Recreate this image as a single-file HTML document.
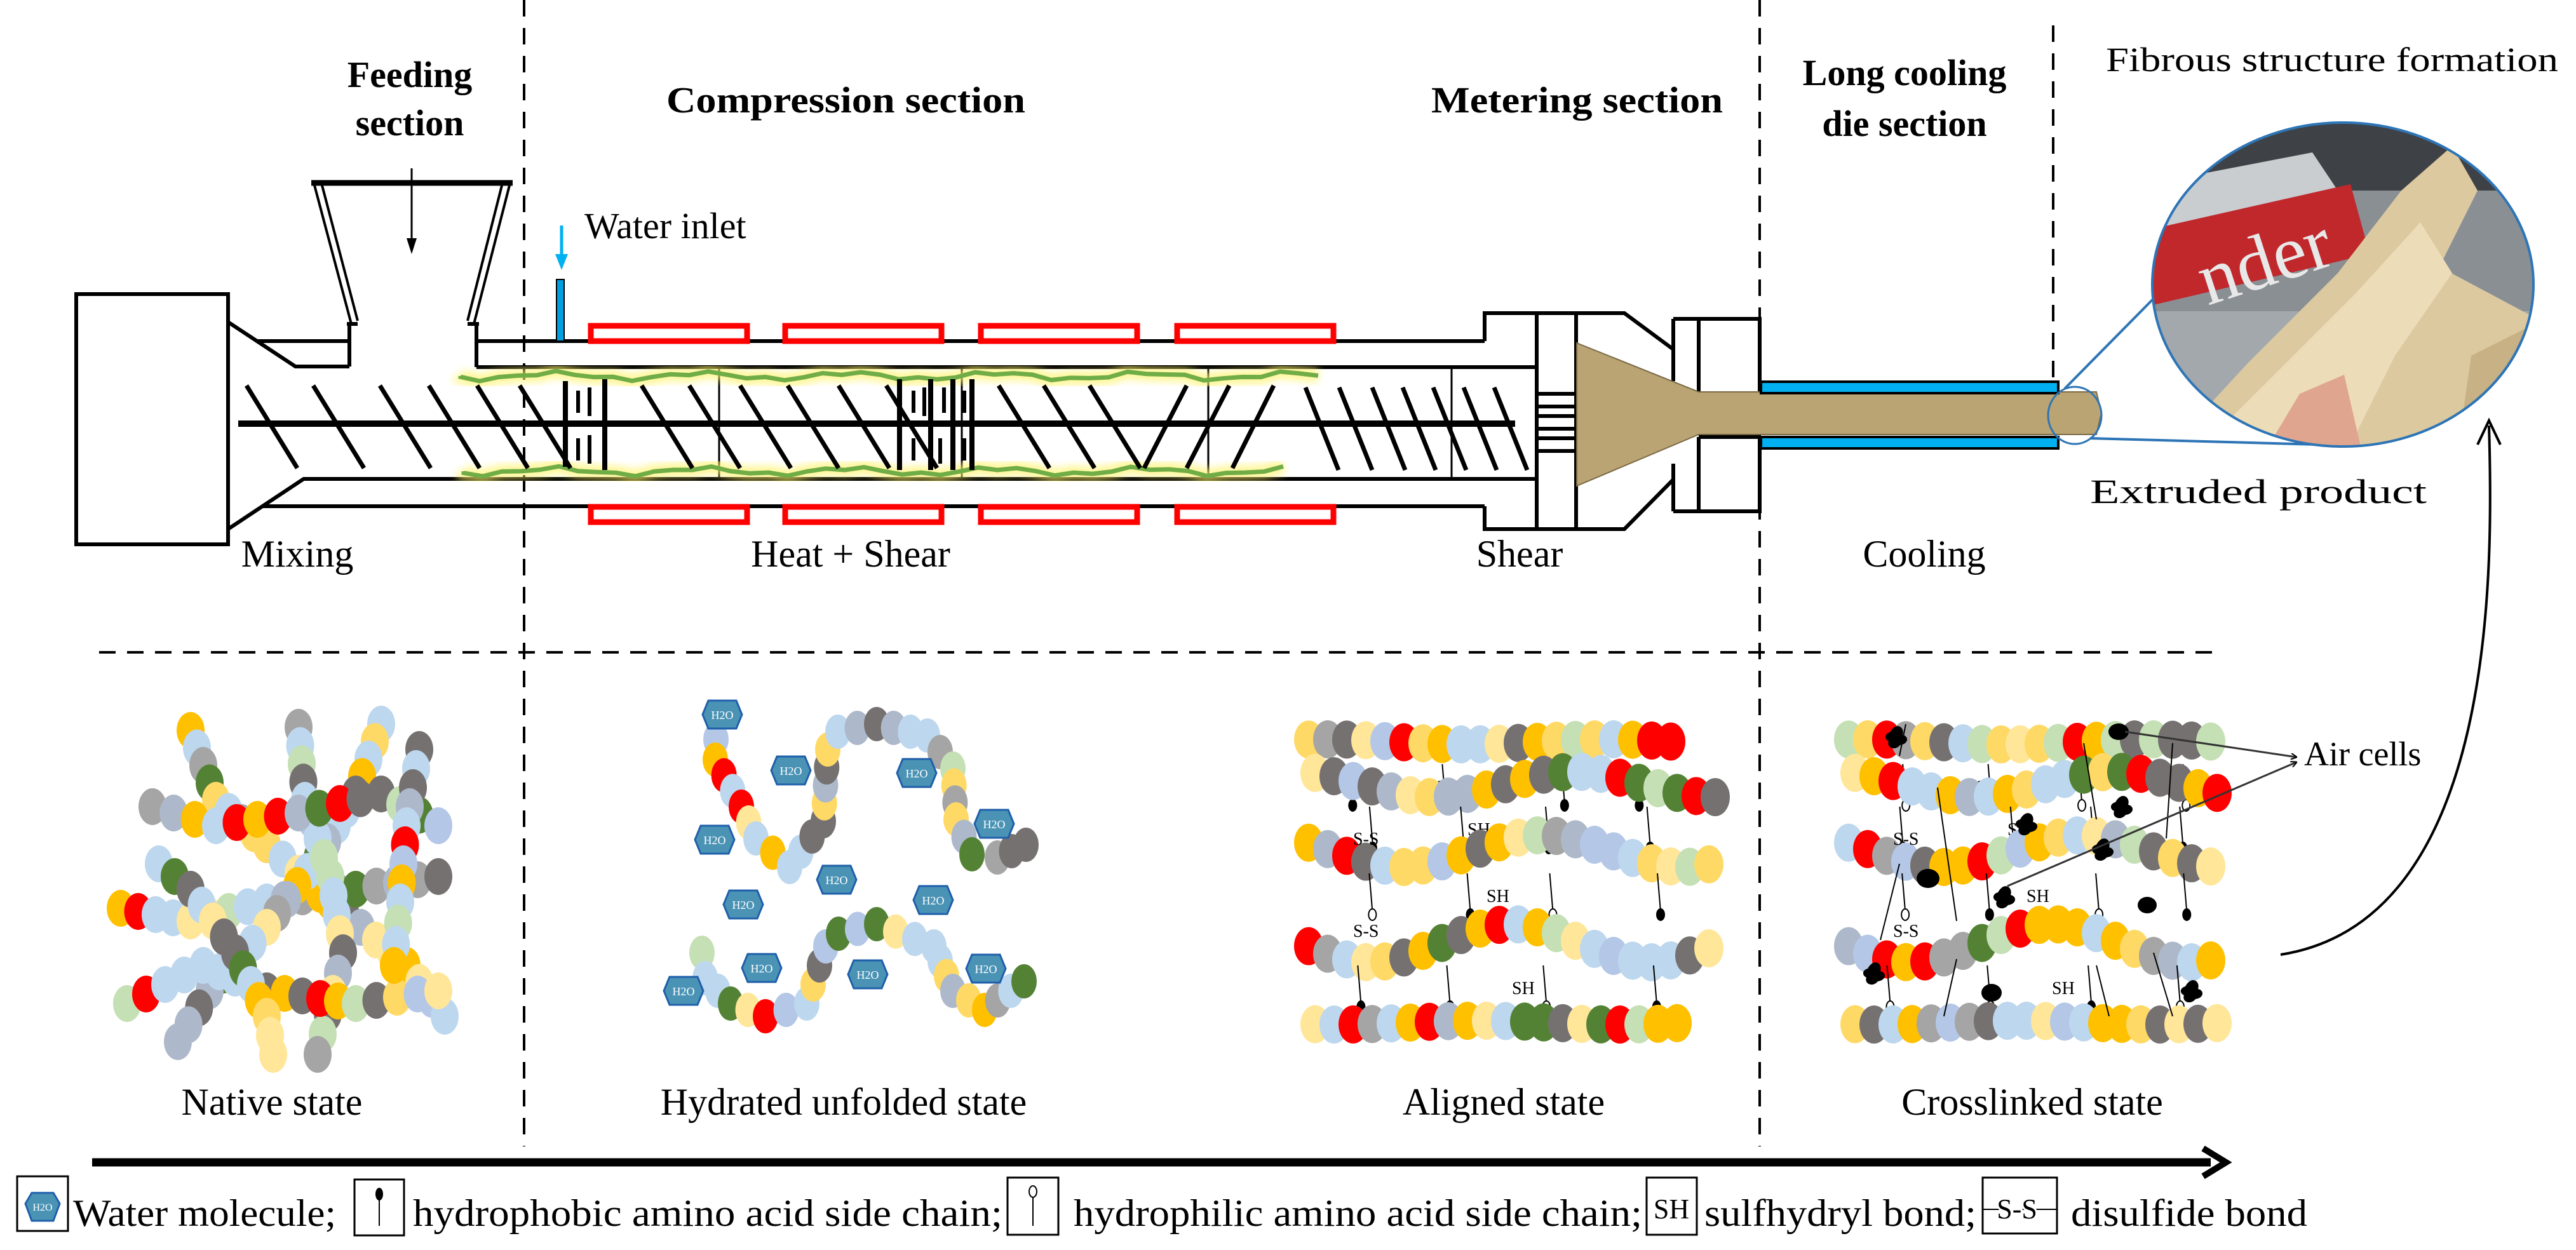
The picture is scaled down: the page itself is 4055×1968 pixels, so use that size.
<!DOCTYPE html>
<html><head><meta charset="utf-8">
<style>
html,body{margin:0;padding:0;background:#fff;}
svg{display:block;}
text{font-family:"Liberation Serif",serif;fill:#000;}
.b{font-weight:bold;}
</style></head>
<body>
<svg id="s" xmlns="http://www.w3.org/2000/svg" width="4055" height="1968" viewBox="0 0 4055 1968">
<defs>
<clipPath id="ov"><ellipse cx="3688" cy="448" rx="300" ry="255"/></clipPath>
<filter id="glow" x="-5%" y="-50%" width="110%" height="200%"><feGaussianBlur stdDeviation="6"/></filter>
<marker id="ah" markerWidth="10" markerHeight="10" refX="9" refY="5" orient="auto" markerUnits="userSpaceOnUse"><path d="M0,0 L10,5 L0,10" fill="none" stroke="#000" stroke-width="2"/></marker>
</defs>

<g stroke="#000" stroke-width="4" stroke-dasharray="26,18" fill="none">
<line x1="825" y1="0" x2="825" y2="1805"/>
<line x1="2770" y1="0" x2="2770" y2="1805"/>
<line x1="3232" y1="40" x2="3232" y2="690"/>
<line x1="156" y1="1027" x2="3484" y2="1027"/>
</g>

<text class="b" x="645" y="137" font-size="58" text-anchor="middle">Feeding</text>
<text class="b" x="645" y="213" font-size="58" text-anchor="middle">section</text>
<text class="b" x="1049" y="177" font-size="58" textLength="565" lengthAdjust="spacingAndGlyphs">Compression section</text>
<text class="b" x="2253" y="177" font-size="58" textLength="459" lengthAdjust="spacingAndGlyphs">Metering section</text>
<text class="b" x="2998" y="134" font-size="58" text-anchor="middle">Long cooling</text>
<text class="b" x="2998" y="214" font-size="58" text-anchor="middle">die section</text>
<text x="3315" y="112" font-size="54" textLength="712" lengthAdjust="spacingAndGlyphs">Fibrous structure formation</text>
<text x="920" y="375" font-size="58">Water inlet</text>

<g stroke="#000" stroke-width="6" fill="none">
<rect x="120" y="463" width="239" height="394" fill="#fff"/>
<polyline points="359,507 465,577 550,577"/>
<line x1="404" y1="537" x2="550" y2="537"/>
<polyline points="359,833 478,754 2419,754"/>
<line x1="413" y1="797" x2="2337" y2="797"/>
<line x1="750" y1="578" x2="2419" y2="578"/>
<line x1="750" y1="537" x2="2337" y2="537"/>
<line x1="550" y1="510" x2="550" y2="577"/>
<line x1="750" y1="510" x2="750" y2="578"/>
<line x1="490" y1="288" x2="807" y2="288" stroke-width="9"/>
<line x1="494" y1="288" x2="553" y2="510" stroke-width="4"/>
<line x1="507" y1="292" x2="563" y2="505" stroke-width="4"/>
<line x1="803" y1="288" x2="746" y2="510" stroke-width="4"/>
<line x1="790" y1="292" x2="736" y2="505" stroke-width="4"/>
<line x1="546" y1="510" x2="563" y2="510"/>
<line x1="736" y1="510" x2="754" y2="510"/>
</g>
<line x1="648" y1="265" x2="648" y2="385" stroke="#000" stroke-width="3"/>
<polygon points="640,375 656,375 648,400" fill="#000"/>
<rect x="876" y="440" width="12" height="97" fill="#00A0E0" stroke="#000" stroke-width="2"/>
<line x1="884" y1="355" x2="884" y2="405" stroke="#00B0F0" stroke-width="5"/>
<polygon points="874,400 894,400 884,425" fill="#00B0F0"/>
<g stroke="#000" stroke-width="3">
<line x1="1132" y1="578" x2="1132" y2="754"/>
<line x1="1514" y1="578" x2="1514" y2="754"/>
<line x1="1902" y1="578" x2="1902" y2="754"/>
<line x1="2285" y1="578" x2="2285" y2="754"/>
</g>
<g fill="none" stroke="#FF0000" stroke-width="9">
<rect x="930" y="513" width="246" height="24"/><rect x="1236" y="513" width="246" height="24"/>
<rect x="1544" y="513" width="246" height="24"/><rect x="1853" y="513" width="246" height="24"/>
<rect x="930" y="798" width="246" height="24"/><rect x="1236" y="798" width="246" height="24"/>
<rect x="1544" y="798" width="246" height="24"/><rect x="1853" y="798" width="246" height="24"/>
</g>
<g id="green"></g>
<line x1="375" y1="667" x2="2385" y2="667" stroke="#000" stroke-width="10"/>
<g id="flights" stroke="#000" stroke-width="7" stroke-linecap="butt"></g>

<g stroke="#000" stroke-width="6" fill="none">
<polyline points="2337,537 2337,493 2557,493 2634,550"/>
<polyline points="2337,797 2337,833 2557,833 2634,755"/>
<line x1="2419" y1="493" x2="2419" y2="833"/>
<line x1="2481" y1="493" x2="2481" y2="833"/>
<polyline points="2634,502 2770,502 2770,620"/>
<line x1="2634" y1="502" x2="2634" y2="600"/>
<line x1="2674" y1="502" x2="2674" y2="620"/>
<polyline points="2634,805 2770,805 2770,688"/>
<line x1="2634" y1="805" x2="2634" y2="730"/>
<line x1="2674" y1="805" x2="2674" y2="688"/>
<line x1="2674" y1="620" x2="2770" y2="620"/>
<line x1="2674" y1="688" x2="2770" y2="688"/>
<rect x="2419" y="620" width="62" height="20"/>
<rect x="2419" y="655" width="62" height="20"/>
<rect x="2419" y="690" width="62" height="20"/>
</g>
<polygon points="2482,540 2674,617 3300,617 3308,650 3300,684 2674,684 2482,765" fill="#BBA473" stroke="#7a6a45" stroke-width="2"/>
<rect x="2772" y="601" width="468" height="18" fill="#00B0F0" stroke="#000" stroke-width="4"/>
<rect x="2772" y="688" width="468" height="18" fill="#00B0F0" stroke="#000" stroke-width="4"/>
<ellipse cx="3266" cy="654" rx="42" ry="45" fill="none" stroke="#2E75B6" stroke-width="3"/>
<line x1="3250" y1="612" x2="3395" y2="465" stroke="#2E75B6" stroke-width="4"/>
<line x1="3290" y1="690" x2="3650" y2="700" stroke="#2E75B6" stroke-width="4"/>

<g clip-path="url(#ov)">
<rect x="3380" y="190" width="620" height="520" fill="#8a8f94"/>
<rect x="3380" y="190" width="620" height="110" fill="#3e4246"/>
<polygon points="3380,290 3640,240 3700,330 3400,400" fill="#c9cdd0"/>
<polygon points="3390,360 3700,290 3730,400 3390,480" fill="#c0282c"/>
<text x="3460" y="455" font-size="120" transform="rotate(-18 3550 420)" style="fill:#e8e8e8">nder</text>
<rect x="3380" y="490" width="620" height="230" fill="#a3a8ad"/>
<polygon points="3420,700 3540,570 3680,430 3780,300 3860,230 3900,300 3840,420 3990,500 3990,720" fill="#dcc9a0"/>
<polygon points="3470,700 3590,580 3710,460 3810,350 3860,430 3770,560 3700,700" fill="#ecdcb8"/>
<polygon points="3560,720 3620,620 3690,590 3720,720" fill="#e0a58e"/>
<polygon points="3890,560 3990,510 3990,700 3870,700" fill="#c8b184"/>
</g>
<ellipse cx="3688" cy="448" rx="300" ry="255" fill="none" stroke="#2E75B6" stroke-width="4"/>
<text x="3290" y="792" font-size="54" textLength="530" lengthAdjust="spacingAndGlyphs">Extruded product</text>

<text x="468" y="892" font-size="60" text-anchor="middle">Mixing</text>
<text x="1339" y="892" font-size="60" text-anchor="middle">Heat + Shear</text>
<text x="2392" y="892" font-size="60" text-anchor="middle">Shear</text>
<text x="3029" y="892" font-size="60" text-anchor="middle">Cooling</text>

<g id="mol"></g>

<path d="M3590,1503 C3930,1450 3925,900 3918,670" fill="none" stroke="#000" stroke-width="4"/>
<polyline points="3900,700 3918,662 3936,700" fill="none" stroke="#000" stroke-width="4"/>
<text x="3627" y="1205" font-size="54">Air cells</text>

<text x="428" y="1755" font-size="60" text-anchor="middle">Native state</text>
<text x="1328" y="1755" font-size="60" text-anchor="middle">Hydrated unfolded state</text>
<text x="2367" y="1755" font-size="60" text-anchor="middle">Aligned state</text>
<text x="3199" y="1755" font-size="60" text-anchor="middle">Crosslinked state</text>

<line x1="145" y1="1830" x2="3480" y2="1830" stroke="#000" stroke-width="13"/>
<polyline points="3468,1808 3504,1830 3468,1852" fill="none" stroke="#000" stroke-width="10"/>

<g stroke="#000" stroke-width="3" fill="#fff">
<rect x="27" y="1852" width="80" height="86"/>
<rect x="558" y="1857" width="78" height="88"/>
<rect x="1586" y="1854" width="80" height="90"/>
<rect x="2592" y="1854" width="79" height="90"/>
<rect x="3121" y="1854" width="117" height="88"/>
</g>
<polygon points="40,1895 50,1878 84,1878 94,1895 84,1922 50,1922" fill="#4A93B5" stroke="#1F5FAA" stroke-width="3"/>
<text x="67" y="1906" font-size="16" text-anchor="middle" style="fill:#fff">H2O</text>
<line x1="597" y1="1880" x2="597" y2="1930" stroke="#000" stroke-width="2"/>
<ellipse cx="597" cy="1880" rx="6" ry="10" fill="#000"/>
<line x1="1626" y1="1884" x2="1626" y2="1930" stroke="#000" stroke-width="2"/>
<ellipse cx="1626" cy="1876" rx="6" ry="9" fill="#fff" stroke="#000" stroke-width="2"/>
<text x="2631" y="1918" font-size="44" text-anchor="middle">SH</text>
<line x1="3121" y1="1904" x2="3238" y2="1904" stroke="#000" stroke-width="2"/>
<text x="3175" y="1918" font-size="44" text-anchor="middle" style="paint-order:stroke;stroke:#fff;stroke-width:6">S-S</text>
<text x="115" y="1930" font-size="60" textLength="414" lengthAdjust="spacingAndGlyphs">Water molecule;</text>
<text x="650" y="1930" font-size="60" textLength="928" lengthAdjust="spacingAndGlyphs">hydrophobic amino acid side chain;</text>
<text x="1690" y="1930" font-size="60" textLength="895" lengthAdjust="spacingAndGlyphs">hydrophilic amino acid side chain;</text>
<text x="2683" y="1930" font-size="60" textLength="428" lengthAdjust="spacingAndGlyphs">sulfhydryl bond;</text>
<text x="3260" y="1930" font-size="60" textLength="372" lengthAdjust="spacingAndGlyphs">disulfide bond</text>
</svg>
<script>
(function(){
var NS="http://www.w3.org/2000/svg";
function el(p,t,a){var e=document.createElementNS(NS,t);for(var k in a)e.setAttribute(k,a[k]);p.appendChild(e);return e;}
var seed=7;function rnd(){seed=(seed*16807)%2147483647;return seed/2147483647;}
var C=["#FFC000","#FF0000","#548235","#767171","#A5A5A5","#ADB9CA","#B4C7E7","#BDD7EE","#C5E0B4","#FFE699","#FFD966","#FFC000","#BDD7EE","#767171"];
var F=document.getElementById('flights');
var tops=[388,493,598,675,751,818,1010,1085,1165,1240,1320,1395,1572,1643,1715];
tops.forEach(function(x){el(F,'line',{x1:x,y1:607,x2:x+80,y2:737});});
[[1868,1801],[1935,1868],[2005,1940]].forEach(function(p){el(F,'line',{x1:p[0],y1:607,x2:p[1],y2:737});});
[2055,2108,2160,2208,2256,2304,2352].forEach(function(x){el(F,'line',{x1:x,y1:610,x2:x+52,y2:740});});
[[890,600,735],[952,597,740],[1416,597,740],[1465,597,740],[1500,597,740],[1530,597,740]].forEach(function(k){el(F,'line',{x1:k[0],y1:k[1],x2:k[0],y2:k[2],'stroke-width':8});});
[[910,615,650],[910,690,725],[928,610,655],[928,685,730],[1438,615,650],[1438,690,725],[1455,610,655],[1480,690,730],[1486,610,650],[1518,615,650],[1518,690,725]].forEach(function(k){el(F,'line',{x1:k[0],y1:k[1],x2:k[0],y2:k[2],'stroke-width':6});});
var G=document.getElementById('green');
function wav(x0,x1,y,a){var d="M"+x0+","+y;for(var x=x0;x<=x1;x+=30){d+=" L"+x+","+(y+a*Math.sin(x/37)+a*0.6*Math.sin(x/13));}return d;}
var d1=wav(725,2090,592,5),d2=wav(730,2030,742,5);
[d1,d2].forEach(function(d){el(G,'path',{d:d,fill:'none',stroke:'#FFF36A','stroke-width':22,opacity:0.7,filter:'url(#glow)'});el(G,'path',{d:d,fill:'none',stroke:'#70AD47','stroke-width':7});});
var M=document.getElementById('mol');
function chain(pts,step,rx,ry){
 for(var i=0;i<pts.length-1;i++){var a=pts[i],b=pts[i+1];var L=Math.hypot(b[0]-a[0],b[1]-a[1]);var n=Math.max(1,Math.round(L/step));
  for(var j=0;j<n;j++){var t=j/n;el(M,'ellipse',{cx:a[0]+(b[0]-a[0])*t,cy:a[1]+(b[1]-a[1])*t,rx:rx,ry:ry,fill:C[Math.floor(rnd()*C.length)]});}}
 var l=pts[pts.length-1];el(M,'ellipse',{cx:l[0],cy:l[1],rx:rx,ry:ry,fill:C[Math.floor(rnd()*C.length)]});
}
var nat=[
[[300,1150],[340,1260],[420,1330],[520,1420],[640,1520],[700,1600]],
[[190,1430],[300,1450],[420,1420],[560,1400],[690,1380]],
[[600,1140],[560,1250],[500,1350],[420,1460],[330,1560],[280,1640]],
[[470,1145],[480,1260],[520,1380],[540,1500],[500,1660]],
[[240,1270],[340,1300],[470,1280],[600,1250],[690,1300]],
[[200,1580],[320,1520],[420,1560],[560,1580],[690,1560]],
[[660,1180],[640,1300],[630,1420],[620,1520]],
[[250,1360],[300,1400],[370,1500],[420,1600],[430,1660]]];
nat.forEach(function(p){chain(p,30,22,29);});
chain([[1127,1164],[1126,1196],[1167,1270],[1190,1320],[1243,1365],[1296,1293],[1303,1180],[1319,1152],[1380,1140],[1460,1158],[1500,1210],[1505,1290],[1530,1345],[1570,1350],[1615,1330]],30,20,27);
chain([[1105,1500],[1110,1540],[1150,1580],[1205,1600],[1270,1580],[1300,1490],[1320,1470],[1380,1455],[1470,1490],[1500,1560],[1550,1590],[1612,1545]],30,20,27);
[[1137,1125],[1245,1213],[1443,1217],[1125,1322],[1565,1297],[1317,1385],[1170,1424],[1469,1417],[1199,1524],[1366,1534],[1076,1560],[1552,1525]].forEach(function(c){
 var x=c[0],y=c[1];el(M,'polygon',{points:(x-31)+","+y+" "+(x-22)+","+(y-22)+" "+(x+22)+","+(y-22)+" "+(x+31)+","+y+" "+(x+22)+","+(y+22)+" "+(x-22)+","+(y+22),fill:'#4A93B5',stroke:'#1F5FAA','stroke-width':3});
 var t=el(M,'text',{x:x,y:y+7,'font-size':18,'text-anchor':'middle',style:'fill:#fff'});t.textContent="H2O";});
function rows(dx,xmax){
 var R=[[2060,2640,1168,4],[2070,2700,1235,20],[2060,2690,1340,25],[2060,2700,1485,30],[2070,2640,1610,3]];
 R.forEach(function(r,ri){var pts=[];for(var x=r[0];x<=Math.min(r[1]+dx,xmax+0)-dx+0.1;x+=30){pts.push([x+dx,r[2]+r[3]*Math.sin((x+ri*50)/70)]);}
  chain(pts,30,23,30);
  if(ri<4){for(var k=0;k<4;k++){var sx=r[0]+dx+60+k*150+rnd()*40;var sy=r[2]+35;var hyd=rnd()<0.6;
   el(M,'line',{x1:sx,y1:sy,x2:sx+5,y2:sy+60,stroke:'#000','stroke-width':2});
   el(M,'ellipse',{cx:sx+5,cy:sy+65,rx:6,ry:9,fill:hyd?'#000':'#fff',stroke:'#000','stroke-width':2});}
   var t=el(M,'text',{x:r[0]+dx+200+ri*40,y:r[2]+80,'font-size':28});t.textContent="SH";}
 });
 var s=el(M,'text',{x:2130+dx,y:1330,'font-size':28});s.textContent="S-S";
 var s2=el(M,'text',{x:2130+dx,y:1475,'font-size':28});s2.textContent="S-S";
}
rows(0,2700);rows(850,3500);
[[3000,1140,2990,1190],[3050,1240,3080,1450],[3280,1170,3300,1290],[3420,1170,3410,1320],[2990,1360,2960,1480],[3080,1510,3060,1600],[3300,1520,3320,1600],[3390,1500,3420,1600]].forEach(function(l){el(M,'line',{x1:l[0],y1:l[1],x2:l[2],y2:l[3],stroke:'#000','stroke-width':2});});
[[3335,1152,16,13],[3035,1383,18,15],[3380,1425,15,13],[3135,1563,16,14]].forEach(function(c){el(M,'ellipse',{cx:c[0],cy:c[1],rx:c[2],ry:c[3],fill:'#000'});});
[[2975,1153],[3180,1290],[3330,1263],[3145,1405],[3440,1553],[2940,1525],[3300,1330]].forEach(function(c){el(M,'path',{d:"M"+c[0]+","+c[1]+" c10,-18 24,-8 20,4 c10,2 10,14 -4,16 c-8,10 -22,4 -18,-6 c-8,-4 -6,-12 2,-14z",fill:'#000'});});
el(M,'line',{x1:3345,y1:1152,x2:3615,y2:1192,stroke:'#333','stroke-width':3,'marker-end':'url(#ah)'});
el(M,'line',{x1:3160,y1:1395,x2:3615,y2:1200,stroke:'#333','stroke-width':3,'marker-end':'url(#ah)'});
})();
</script>
</body></html>
